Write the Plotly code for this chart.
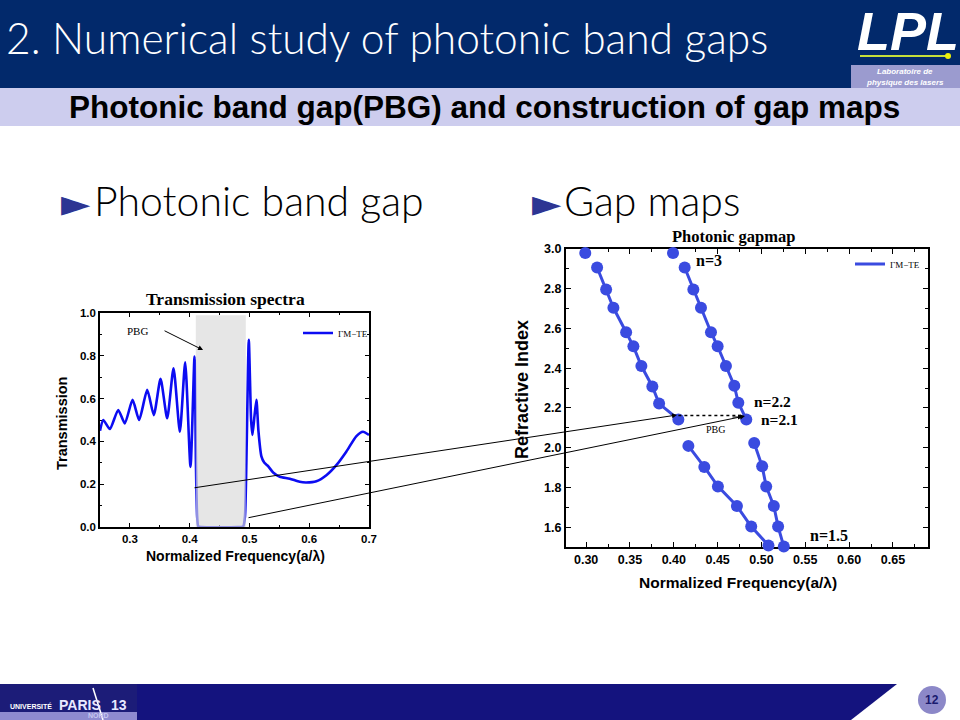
import plotly.graph_objects as go

W, H = 960, 720

# ---------------- data: transmission spectrum (left) ----------------
freq_t = [0.250, 0.2555, 0.2665, 0.2805, 0.2915, 0.3045, 0.3155, 0.3290, 0.3400, 0.3513,
          0.3624, 0.3730, 0.3836, 0.3925, 0.4014, 0.4081, 0.4105, 0.4125, 0.4145, 0.4200,
          0.4800, 0.4895, 0.4925, 0.4955, 0.4989, 0.5028, 0.5050, 0.5085, 0.5117, 0.5150,
          0.5200, 0.5250, 0.5310, 0.5396, 0.5507, 0.5674, 0.5840, 0.5950, 0.6120, 0.6287,
          0.6454, 0.6620, 0.6790, 0.6900, 0.7000]
trans = [0.450, 0.500, 0.458, 0.547, 0.484, 0.594, 0.500, 0.641, 0.523, 0.692,
         0.508, 0.742, 0.445, 0.770, 0.281, 0.797, 0.300, 0.050, 0.003, 0.000,
         0.000, 0.003, 0.050, 0.400, 0.875, 0.500, 0.430, 0.520, 0.594, 0.450,
         0.330, 0.300, 0.285, 0.255, 0.235, 0.226, 0.211, 0.208, 0.214, 0.242,
         0.289, 0.352, 0.425, 0.445, 0.430]
pbg_band = [0.4103, 0.4939, 0.99]  # x0, x1, top of shaded band

# ---------------- data: gap map (right) ----------------
fa = [0.299, 0.3125, 0.3228, 0.3311, 0.3456, 0.3539, 0.3630, 0.3755, 0.3832, 0.4052]
na = [2.98, 2.907, 2.796, 2.704, 2.581, 2.510, 2.411, 2.308, 2.222, 2.142]
fb = [0.3991, 0.4124, 0.4223, 0.4310, 0.4424, 0.4500, 0.4595, 0.4690, 0.4736, 0.4827]
nb = [2.98, 2.907, 2.796, 2.704, 2.581, 2.510, 2.411, 2.312, 2.226, 2.142]
fc = [0.4917, 0.5008, 0.5054, 0.5141, 0.5190, 0.5255]
nc = [2.024, 1.906, 1.805, 1.706, 1.603, 1.502]
fd = [0.4166, 0.4348, 0.4503, 0.4720, 0.4883, 0.5080]
nd = [2.009, 1.903, 1.805, 1.706, 1.603, 1.508]

x1_ticks = [0.3, 0.4, 0.5, 0.6, 0.7]
y1_ticks = [0.0, 0.2, 0.4, 0.6, 0.8, 1.0]
x2_ticks = [0.30, 0.35, 0.40, 0.45, 0.50, 0.55, 0.60, 0.65]
y2_ticks = [1.6, 1.8, 2.0, 2.2, 2.4, 2.6, 2.8, 3.0]


def px(x):
    return x / W


def py(y):
    return 1 - y / H


BLUE_T = "#0c0cf2"
BLUE_M = "#3a4be0"

fig = go.Figure()

# left chart trace
fig.add_trace(go.Scatter(x=freq_t, y=trans, mode="lines", xaxis="x", yaxis="y",
                         line=dict(color=BLUE_T, width=2.6, shape="spline", smoothing=0.6),
                         name="\u0393M\u2212TE", legend="legend", showlegend=True))

# right chart: lines (top points not connected), then markers
fig.add_trace(go.Scatter(x=fa[1:], y=na[1:], mode="lines", xaxis="x2", yaxis="y2",
                         line=dict(color=BLUE_M, width=3), name="\u0393M\u2212TE",
                         legend="legend2", showlegend=True))
fig.add_trace(go.Scatter(x=fb[1:], y=nb[1:], mode="lines", xaxis="x2", yaxis="y2",
                         line=dict(color=BLUE_M, width=3), showlegend=False))
fig.add_trace(go.Scatter(x=fc, y=nc, mode="lines", xaxis="x2", yaxis="y2",
                         line=dict(color=BLUE_M, width=3), showlegend=False))
fig.add_trace(go.Scatter(x=fd, y=nd, mode="lines", xaxis="x2", yaxis="y2",
                         line=dict(color=BLUE_M, width=3), showlegend=False))
for fx, ny in [(fa, na), (fb, nb), (fc, nc), (fd, nd)]:
    fig.add_trace(go.Scatter(x=fx, y=ny, mode="markers", xaxis="x2", yaxis="y2",
                             marker=dict(color=BLUE_M, size=12), cliponaxis=False,
                             showlegend=False))

shapes = []
# header band
shapes.append(dict(type="rect", xref="paper", yref="paper", x0=0, x1=1, y0=py(88), y1=1,
                   fillcolor="#02296b", line_width=0, layer="below"))
shapes.append(dict(type="rect", xref="paper", yref="paper", x0=0, x1=1, y0=py(126), y1=py(88),
                   fillcolor="#cdcdee", line_width=0, layer="below"))
shapes.append(dict(type="rect", xref="paper", yref="paper", x0=px(851), x1=1, y0=py(88), y1=py(65),
                   fillcolor="#9b9bcf", line_width=0, layer="below"))
shapes.append(dict(type="line", xref="paper", yref="paper", x0=px(860), x1=px(946), y0=py(56), y1=py(56),
                   line=dict(color="#c6e03a", width=2), layer="below"))
shapes.append(dict(type="circle", xref="paper", yref="paper", x0=px(945), x1=px(951), y0=py(59), y1=py(53),
                   fillcolor="#eef20a", line_width=0, layer="below"))
# footer
shapes.append(dict(type="path", xref="paper", yref="paper",
                   path=f"M 0,{py(684)} L {px(897)},{py(684)} L {px(851)},0 L 0,0 Z",
                   fillcolor="#14137e", line_width=0, layer="below"))
shapes.append(dict(type="rect", xref="paper", yref="paper", x0=0, x1=px(137), y0=py(712), y1=py(684),
                   fillcolor="#1c1c78", line_width=0, layer="below"))
shapes.append(dict(type="rect", xref="paper", yref="paper", x0=0, x1=px(137), y0=0, y1=py(712),
                   fillcolor="#8f8bd0", line_width=0, layer="below"))
shapes.append(dict(type="line", xref="paper", yref="paper", x0=px(93), x1=px(103), y0=py(688), y1=py(720),
                   line=dict(color="white", width=1.5), layer="below"))
shapes.append(dict(type="circle", xref="paper", yref="paper", x0=px(918), x1=px(946), y0=py(714), y1=py(686),
                   fillcolor="#8c88c8", line_width=0, layer="below"))
# PBG shaded band on left chart
shapes.append(dict(type="rect", xref="x", yref="y", x0=pbg_band[0], x1=pbg_band[1], y0=0, y1=pbg_band[2],
                   fillcolor="#d9d9d9", opacity=0.65, line_width=0, layer="above"))
# dotted PBG line on right chart
shapes.append(dict(type="line", xref="x2", yref="y2", x0=fa[-1], x1=fb[-1] - 0.004, y0=na[-1] + 0.02,
                   y1=nb[-1] + 0.02, line=dict(color="black", width=1.5, dash="dot"), layer="above"))

annotations = []


def txt(text, x, y, size, color="black", family="Liberation Sans", xanchor="left",
        yanchor="middle", bold=False, italic=False, angle=0, weight=None):
    f = dict(size=size, color=color, family=family)
    if weight is not None:
        f["weight"] = weight
    elif bold:
        f["weight"] = "bold"
    if italic:
        f["style"] = "italic"
    annotations.append(dict(text=text, x=px(x), y=py(y), xref="paper", yref="paper",
                            xanchor=xanchor, yanchor=yanchor, showarrow=False, font=f,
                            textangle=angle))


# header texts
txt("2. Numerical study of photonic band gaps", 4, 37, 42.5, color="white", family="Lato", weight=300)
txt("LPL", 908, 31, 54, color="white", xanchor="center", bold=True, italic=True)
txt("Laboratoire de", 905, 72, 8, color="white", xanchor="center", bold=True, italic=True)
txt("physique des lasers", 905, 82, 8, color="white", xanchor="center", bold=True, italic=True)
txt("Photonic band gap(PBG) and construction of gap maps", 484, 107, 31.5, xanchor="center",
    bold=True)
# section heads
txt("\u25ba", 59, 203, 38, color="#2d3593", family="DejaVu Sans")
txt("Photonic band gap", 92, 200, 41, family="Lato", weight=300)
txt("\u25ba", 530, 203, 38, color="#2d3593", family="DejaVu Sans")
txt("Gap maps", 562, 200, 41, family="Lato", weight=300)

# chart titles
txt("Transmission spectra", 225, 299, 17.5, xanchor="center", family="Liberation Serif", bold=True)
txt("Photonic gapmap", 733, 237, 16.5, xanchor="center", family="Liberation Serif", bold=True)
# axis titles
txt("Transmission", 62, 424, 14.5, xanchor="center", bold=True, angle=-90)
txt("Normalized Frequency(a/\u03bb)", 235, 556, 14, xanchor="center", bold=True)
txt("Refractive Index", 522, 390, 18, xanchor="center", bold=True, angle=-90)
txt("Normalized Frequency(a/\u03bb)", 738, 582, 15.5, xanchor="center", bold=True)
# gap map labels
txt("n=3", 694, 260, 16, family="Liberation Serif", bold=True)
txt("n=2.2", 752, 401, 15.5, family="Liberation Serif", bold=True)
txt("n=2.1", 759, 419, 15.5, family="Liberation Serif", bold=True)
txt("n=1.5", 808, 535, 16, family="Liberation Serif", bold=True)
txt("PBG", 715, 429, 10, xanchor="center", family="Liberation Serif")
txt("PBG", 137, 331, 11, xanchor="center", family="Liberation Serif")

# footer
txt("UNIVERSIT\u00c9", 8, 706, 7, color="white", bold=True)
txt("PARIS", 57, 705, 14, color="#e8e8ff", bold=True)
txt("13", 109, 705, 14, color="#e8e8ff", bold=True)
txt("NORD", 86, 715, 7, color="#c8c8f0", bold=True)
txt("12", 932, 700, 12, color="#1a1a6e", xanchor="center", bold=True)

# PBG arrow on left chart
annotations.append(dict(x=0.4224, y=0.827, xref="x", yref="y", ax=-40, ay=-20, axref="pixel",
                        text="", showarrow=True, arrowhead=2, arrowsize=1, arrowwidth=1,
                        arrowcolor="black"))
# long arrows linking the charts
annotations.append(dict(x=px(677), y=py(415), xref="paper", yref="paper", ax=-484, ay=73,
                        text="", showarrow=True, arrowhead=2, arrowsize=1, arrowwidth=1,
                        arrowcolor="black"))
annotations.append(dict(x=px(745), y=py(416), xref="paper", yref="paper", ax=-498, ay=102,
                        text="", showarrow=True, arrowhead=2, arrowsize=1, arrowwidth=1,
                        arrowcolor="black"))
# head of dotted arrow
annotations.append(dict(x=px(743), y=py(417), xref="paper", yref="paper", ax=-12, ay=0,
                        text="", showarrow=True, arrowhead=2, arrowsize=1, arrowwidth=1,
                        arrowcolor="black"))

axis_common = dict(showline=True, linecolor="black", mirror="allticks", ticks="inside",
                   tickcolor="black", showgrid=False, zeroline=False, layer="below traces",
                   automargin=False,
                   tickfont=dict(family="Liberation Sans", size=11.5, color="black", weight="bold"))

fig.update_layout(
    width=W, height=H, margin=dict(l=0, r=0, t=0, b=0, pad=0, autoexpand=False),
    paper_bgcolor="white", plot_bgcolor="white",
    xaxis=dict(domain=[px(100), px(369)], anchor="y", range=[0.25, 0.7], tickvals=x1_ticks,
               ticklen=4, linewidth=1.5, minor=dict(ticks="inside", ticklen=2, dtick=0.05, tickcolor="black"),
               **axis_common),
    yaxis=dict(domain=[py(527), py(313)], anchor="x", range=[0, 1.0], tickvals=y1_ticks,
               tickformat=".1f", ticklen=4, linewidth=1.5,
               minor=dict(ticks="inside", ticklen=2, dtick=0.1, tickcolor="black"), **axis_common),
    xaxis2=dict(domain=[px(566), px(928)], anchor="y2", range=[0.277, 0.69], tickvals=x2_ticks,
                tickformat=".2f", ticklen=5, linewidth=2,
                minor=dict(ticks="inside", ticklen=3, dtick=0.025, tickcolor="black"), **axis_common),
    yaxis2=dict(domain=[py(547), py(249)], anchor="x2", range=[1.5, 3.0], tickvals=y2_ticks,
                tickformat=".1f", ticklen=5, linewidth=2,
                minor=dict(ticks="inside", ticklen=3, dtick=0.1, tickcolor="black"), **axis_common),
    legend=dict(x=px(298), y=py(333), xanchor="left", yanchor="middle", bgcolor="rgba(0,0,0,0)",
                itemwidth=30, font=dict(family="Liberation Serif", size=9, color="black")),
    legend2=dict(x=px(850), y=py(264), xanchor="left", yanchor="middle", bgcolor="rgba(0,0,0,0)",
                 itemwidth=30, font=dict(family="Liberation Serif", size=9, color="black")),
    shapes=shapes, annotations=annotations,
)

fig.update_xaxes(tickfont=dict(size=12.5), selector=dict(anchor="y2"))
fig.update_yaxes(tickfont=dict(size=12.5), selector=dict(anchor="x2"))

fig.write_html(
    "out.html",
    config={"displayModeBar": False},
    post_script=(
        "document.documentElement.style.overflow='hidden';"
        "document.body.style.margin='0';document.body.style.padding='0';"
        "var gd=document.getElementById('{plot_id}');"
        "gd.style.position='fixed';gd.style.left='0px';gd.style.top='0px';"
    ),
)
